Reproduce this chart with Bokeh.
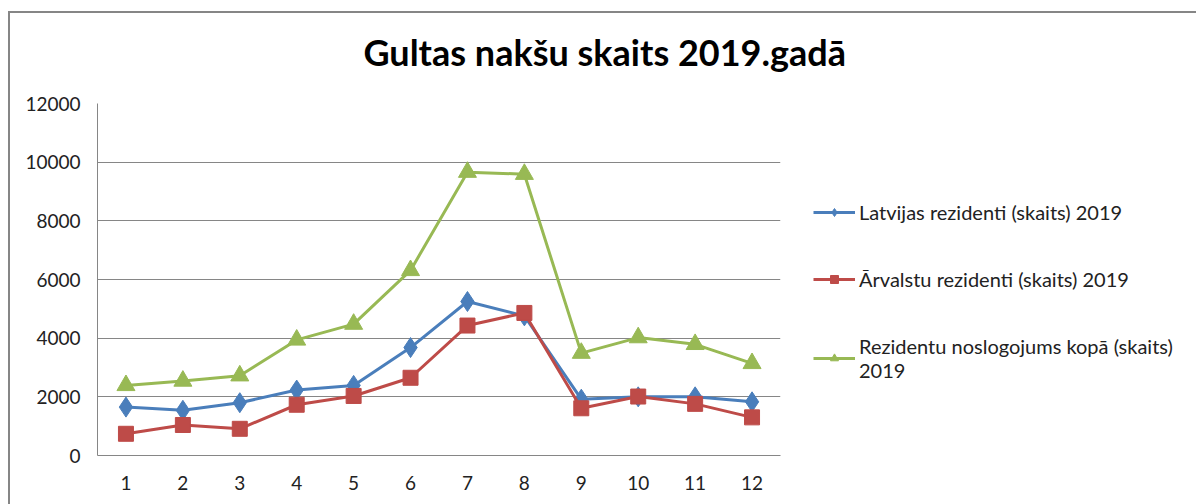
from bokeh.plotting import figure
from bokeh.models import Range1d, FixedTicker, Legend, LegendItem
from bokeh.embed import file_html
from bokeh.resources import INLINE

months = [1, 2, 3, 4, 5, 6, 7, 8, 9, 10, 11, 12]
latvian = [1650, 1540, 1800, 2230, 2390, 3680, 5250, 4760, 1920, 2000, 2000, 1830]
foreign = [740, 1040, 910, 1730, 2030, 2650, 4430, 4860, 1610, 2010, 1760, 1300]
total = [2390, 2540, 2720, 3940, 4480, 6310, 9660, 9590, 3490, 4020, 3790, 3140]
y_ticks = [0, 2000, 4000, 6000, 8000, 10000, 12000]
title_text = "Gultas nakšu skaits 2019.gadā"
labels = ["Latvijas rezidenti (skaits) 2019",
          "Ārvalstu rezidenti (skaits) 2019",
          "Rezidentu noslogojums kopā (skaits)\n2019"]

FONT = "Lato"
GRAY = "#868686"

p = figure(frame_width=683, frame_height=352, output_backend="svg", toolbar_location=None,
           x_range=Range1d(0.5, 12.5), y_range=Range1d(0, 12000),
           min_border_left=89, min_border_right=0, min_border_top=101, min_border_bottom=49,
           title=title_text)
p.styles = {
    "margin-left": "8px",
    "margin-top": "2px",
    "background-color": "white",
    "background-image": "linear-gradient(#868686, #868686), linear-gradient(#868686, #868686)",
    "background-size": "100% 2px, 2px 100%",
    "background-position": "0 9px, 0 9px",
    "background-repeat": "no-repeat",
}

p.title.align = "left"
p.title.vertical_align = "top"
p.title.text_font = FONT
p.title.text_font_size = "36px"
p.title.text_font_style = "bold"
p.title.text_color = "black"
p.title.offset = 266
p.title.standoff = 55

p.outline_line_color = None
p.background_fill_color = "white"
p.border_fill_alpha = 0

p.xaxis.ticker = FixedTicker(ticks=months)
p.yaxis.ticker = FixedTicker(ticks=y_ticks)
for ax in (p.xaxis, p.yaxis):
    ax.axis_line_color = GRAY
    ax.axis_line_width = 1
    ax.major_tick_line_color = None
    ax.minor_tick_line_color = None
    ax.major_tick_out = 0
    ax.major_tick_in = 0
    ax.minor_tick_out = 0
    ax.major_label_text_font = FONT
    ax.major_label_text_font_size = "19px"
    ax.major_label_text_color = "#222222"
p.xaxis.major_label_standoff = 20
p.yaxis.major_label_standoff = 17
p.xgrid.grid_line_color = None
p.ygrid.grid_line_color = GRAY
p.ygrid.grid_line_width = 1

blue, red, green = "#4A7EBB", "#BE4B48", "#98B954"

l1 = p.line(months, latvian, line_color=blue, line_width=3)
m1 = p.scatter(months, latvian, marker="diamond", size=20, fill_color=blue, line_color=blue)
l2 = p.line(months, foreign, line_color=red, line_width=3)
m2 = p.scatter(months, foreign, marker="square", size=15, fill_color=red, line_color=red)
l3 = p.line(months, total, line_color=green, line_width=3)
m3 = p.scatter(months, total, marker="triangle", size=18, fill_color=green, line_color=green)

legend = Legend(items=[LegendItem(label=labels[0], renderers=[l1, m1]),
                       LegendItem(label=labels[1], renderers=[l2, m2]),
                       LegendItem(label=labels[2], renderers=[l3, m3])],
                location=(33, 73), orientation="vertical")
legend.border_line_color = None
legend.background_fill_alpha = 0
legend.label_text_font = FONT
legend.label_text_font_size = "20px"
legend.label_text_color = "#222222"
legend.glyph_width = 42
legend.glyph_height = 20
legend.label_standoff = 4
legend.spacing = 43
legend.padding = 0
legend.margin = 0
p.add_layout(legend, "right")

open("out.html", "w").write(file_html(p, INLINE))
